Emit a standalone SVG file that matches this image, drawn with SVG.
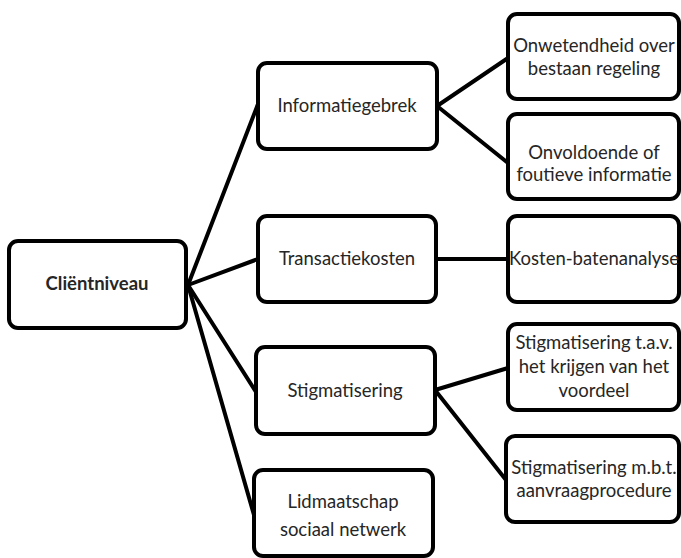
<svg xmlns="http://www.w3.org/2000/svg" width="681" height="558" viewBox="0 0 681 558">
<style>
.box{fill:#fff;stroke:#000;stroke-width:4}
.ln{stroke:#000;stroke-width:4;fill:none;stroke-linecap:round}
text{font-family:Lato,"Noto Sans","Liberation Sans",sans-serif;font-size:18.5px;fill:#262626;text-anchor:middle}
.b{font-weight:bold}
</style>
<rect width="681" height="558" fill="#fff"/>
<g id="connectors">
<line class="ln" x1="188" y1="285" x2="258" y2="104"/>
<line class="ln" x1="188" y1="285" x2="258" y2="259"/>
<line class="ln" x1="188" y1="285" x2="256" y2="392"/>
<line class="ln" x1="188" y1="285" x2="254" y2="515"/>
<line class="ln" x1="437" y1="106" x2="508" y2="58"/>
<line class="ln" x1="437" y1="106" x2="508" y2="163"/>
<line class="ln" x1="437" y1="259" x2="508" y2="259"/>
<line class="ln" x1="435" y1="390" x2="508" y2="368"/>
<line class="ln" x1="435" y1="390" x2="506" y2="480"/>
</g>
<g id="root"><rect class="box" x="9" y="241" width="177" height="87" rx="9"/><text class="b" x="97" y="290">Cliëntniveau</text></g>
<g id="informatiegebrek"><rect class="box" x="258" y="63" width="179" height="86" rx="9"/><text x="347" y="112">Informatiegebrek</text></g>
<g id="transactiekosten"><rect class="box" x="258" y="216" width="178" height="86" rx="9"/><text x="347" y="265">Transactiekosten</text></g>
<g id="stigmatisering"><rect class="box" x="256" y="347" width="179" height="87" rx="9"/><text x="345" y="397">Stigmatisering</text></g>
<g id="lidmaatschap"><rect class="box" x="254" y="470" width="179" height="86" rx="9"/><text x="343" y="508">Lidmaatschap</text><text x="343" y="536">sociaal netwerk</text></g>
<g id="onwetendheid"><rect class="box" x="508" y="14" width="171" height="85" rx="9"/><text x="594" y="52">Onwetendheid over</text><text x="594" y="75">bestaan regeling</text></g>
<g id="onvoldoende"><rect class="box" x="508" y="114" width="171" height="85" rx="9"/><text x="594" y="159">Onvoldoende of</text><text x="594" y="181">foutieve informatie</text></g>
<g id="kosten"><rect class="box" x="508" y="216" width="171" height="86" rx="9"/><text x="594" y="265">Kosten-batenanalyse</text></g>
<g id="stig-tav"><rect class="box" x="508" y="324" width="171" height="86" rx="9"/><text x="594" y="349">Stigmatisering t.a.v.</text><text x="594" y="373">het krijgen van het</text><text x="594" y="397">voordeel</text></g>
<g id="stig-mbt"><rect class="box" x="506" y="436" width="173" height="86" rx="9"/><text x="594" y="474">Stigmatisering m.b.t.</text><text x="594" y="497">aanvraagprocedure</text></g>
</svg>
